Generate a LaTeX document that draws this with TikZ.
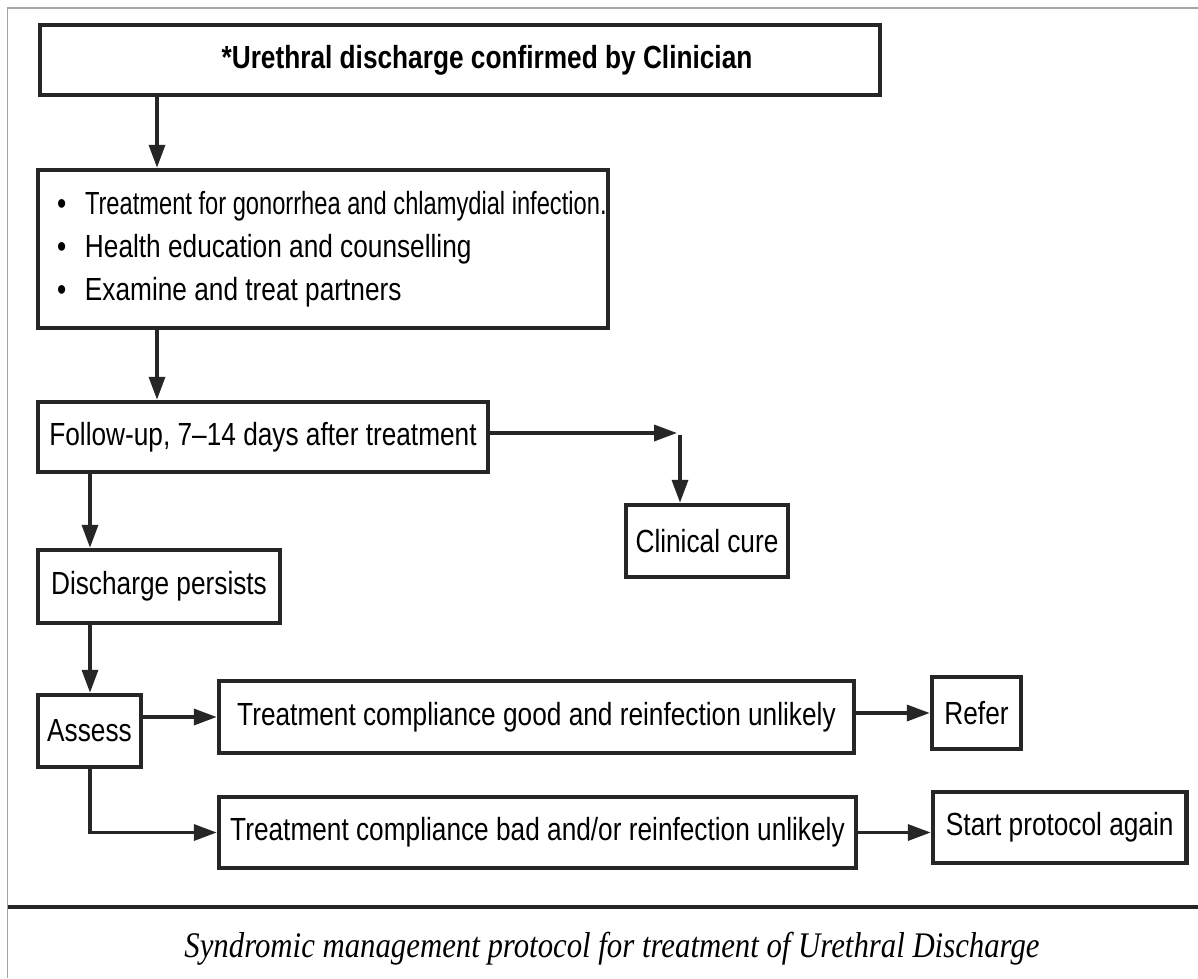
\documentclass[tikz,border=0pt]{standalone}
\usepackage{fontspec}
\usetikzlibrary{arrows.meta,calc}
\newfontfamily\sansn[FakeStretch=0.82]{Liberation Sans}
\newfontfamily\sansnn[FakeStretch=0.74]{Liberation Sans}
\newfontfamily\capserif[FakeStretch=0.855]{Liberation Serif}
\newcommand{\bulletline}[2]{\makebox[570pt][l]{\hspace*{19pt}\makebox[28pt][l]{\sansn •}{#1#2}}}
\begin{document}
\begin{tikzpicture}[x=1pt,y=-1pt,
  box/.style={draw=black!85, line width=4.5pt, rectangle, inner sep=0pt, align=center,
              font={\sansn\fontsize{32}{38}\selectfont}},
  arr/.style={draw=black!85, line width=3.5pt, -{Triangle[length=23pt,width=16pt]}},
  plain/.style={draw=black!85, line width=3.5pt},
  frame/.style={draw=black!35, line width=1.2pt}
]
\path[fill=white,use as bounding box] (0,0) rectangle (1198,978);
\draw[frame] (7.5,978) -- (7.5,8) -- (1198,8);

% boxes
\node[box, minimum width=840pt, minimum height=70pt, font={\sansn\bfseries\fontsize{32}{38}\selectfont}]
  (title) at (460,60) {\hspace*{54pt}*Urethral discharge confirmed by Clinician};
\node[box, minimum width=570pt, minimum height=158pt, align=left,
      font={\sansn\fontsize{32}{43}\selectfont}]
  (treat) at (323,249) {\bulletline{\sansnn}{Treatment for gonorrhea and chlamydial infection.}\\
                        \bulletline{}{Health education and counselling}\\
                        \bulletline{}{Examine and treat partners}};
\node[box, minimum width=450pt, minimum height=70pt] (follow) at (263,437) {Follow-up, 7–14 days after treatment};
\node[box, minimum width=162pt, minimum height=72pt] (cure) at (707,541) {Clinical cure};
\node[box, minimum width=242pt, minimum height=73pt] (persists) at (159,586.5) {Discharge persists};
\node[box, minimum width=103pt, minimum height=72pt] (assess) at (89.5,731) {Assess};
\node[box, minimum width=635pt, minimum height=72pt] (good) at (536.5,717) {Treatment compliance good and reinfection unlikely};
\node[box, minimum width=89pt, minimum height=72pt] (refer) at (976.5,713) {Refer};
\node[box, minimum width=637pt, minimum height=71pt] (bad) at (537.5,832.5) {Treatment compliance bad and/or reinfection unlikely};
\node[box, minimum width=253.5pt, minimum height=71pt] (start) at (1059.75,827.5) {Start protocol again};

% helper coordinates
\coordinate (cx) at (157,0);
\coordinate (lx) at (90,0);
\coordinate (corner) at (680,433);
\coordinate (elbow) at (90,832.5);

% connectors
\draw[arr] (title.south -| cx) -- (treat.north -| cx);
\draw[arr] (treat.south -| cx) -- (follow.north -| cx);
\draw[arr] (follow.east |- corner) -- ([xshift=-3pt]corner);
\draw[arr] ([yshift=-1.75pt]corner) -- (corner |- cure.north);
\draw[arr] (follow.south -| lx) -- (persists.north -| lx);
\draw[arr] (persists.south -| lx) -- (assess.north -| lx);
\draw[arr] (assess.east |- good.west) -- (good.west);
\draw[arr] (good.east |- refer.west) -- (refer.west);
\draw[plain] (assess.south -| lx) -- (elbow);
\draw[arr] ([xshift=-1.75pt]elbow) -- (bad.west);
\draw[arr] (bad.east) -- (start.west |- bad.east);

% rule and caption
\draw[draw=black!85, line width=4pt] (8,907) -- (1198,907);
\node[anchor=base, inner sep=0pt, font={\capserif\itshape\fontsize{36}{40}\selectfont}]
  (caption) at (612,957) {Syndromic management protocol for treatment of Urethral Discharge};
\end{tikzpicture}
\end{document}
